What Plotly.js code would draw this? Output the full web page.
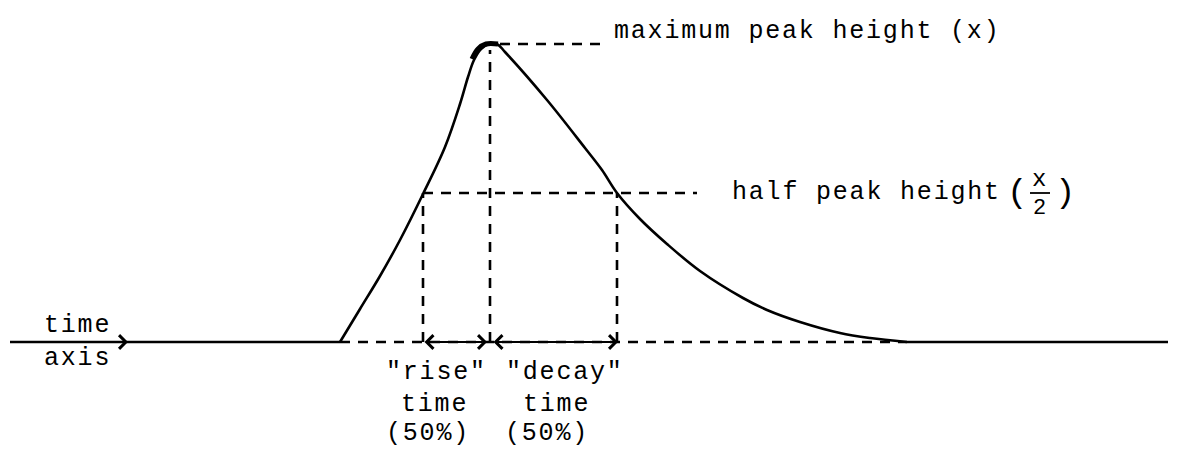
<!DOCTYPE html>
<html>
<head>
<meta charset="utf-8">
<script src="https://cdn.plot.ly/plotly-3.0.1.min.js"></script>
<style>
  html, body { margin: 0; padding: 0; background: #fff; }
  #chart { width: 1177px; height: 451px; }
  .annotation-text { letter-spacing: 1.8px; }
</style>
</head>
<body>
<div id="chart"></div>
<script>
// ---- data (time, signal height) ----
const peakTime = 490;
const peakHeight = 298;
const halfHeight = 149;
const riseHalfTime = 423;
const decayHalfTime = 617;
const startTime = 340;
const endTime = 907;
const axisStart = 10;
const axisEnd = 1168;

const riseT = [340, 360, 380, 400, 423, 445, 460, 468, 474, 481, 489, 497];
const riseH = [0, 33, 66, 102, 148, 195, 238, 265, 282, 293, 298, 298];
const decayT = [505, 547, 585, 602, 617, 640, 667, 700, 743, 767, 800, 840, 870, 907];
const decayH = [290, 242, 194, 172, 149, 123, 98, 71, 44, 32, 20, 9, 4, 0];
const peakCapT = [472, 478, 486, 498];
const peakCapH = [283, 293, 298, 298];

const labelMax = "maximum peak height (x)";
const labelHalf = "half peak height";
const labelRise = ['"rise"', 'time', '(50%)'];
const labelDecay = ['"decay"', 'time', '(50%)'];
const labelAxis = ['time', 'axis'];

const solid = {color: '#000', width: 2.6};
const dashed = {color: '#000', width: 2.6, dash: '10px,8px'};
const FONT = 'Liberation Mono, DejaVu Sans Mono, monospace';

const traces = [
  // time axis solid parts
  {x: [axisStart, startTime], y: [0, 0], mode: 'lines', line: solid},
  {x: [endTime, axisEnd], y: [0, 0], mode: 'lines', line: solid},
  // dashed baseline under the peak
  {x: [startTime, endTime], y: [0, 0], mode: 'lines', line: dashed},
  // curve
  {x: riseT.concat(decayT), y: riseH.concat(decayH), mode: 'lines',
   line: {color: '#000', width: 2.6, shape: 'spline', smoothing: 1}},
  {x: peakCapT, y: peakCapH, mode: 'lines', line: {color: '#000', width: 5, shape: 'spline'}},
  // dashed guides
  {x: [peakTime + 10, 605], y: [peakHeight, peakHeight], mode: 'lines', line: dashed},
  {x: [peakTime, peakTime], y: [0, peakHeight - 6], mode: 'lines', line: dashed},
  {x: [riseHalfTime, 697], y: [halfHeight, halfHeight], mode: 'lines', line: dashed},
  {x: [riseHalfTime, riseHalfTime], y: [0, halfHeight], mode: 'lines', line: dashed},
  {x: [decayHalfTime, decayHalfTime], y: [0, halfHeight], mode: 'lines', line: dashed},
  // fraction bar for x/2
  {x: [1030, 1050], y: [halfHeight, halfHeight], mode: 'lines', line: {color: '#000', width: 1.8}}
];

function txt(x, y, text, size, anchor) {
  return {x: x, y: y, xref: 'x', yref: 'y', text: text, showarrow: false,
    xanchor: anchor || 'center', yanchor: 'middle',
    font: {family: FONT, size: size || 25, color: '#000'}};
}
function arrow(x, y, ax, ay, both) {
  return {x: x, y: y, ax: ax, ay: ay, xref: 'x', yref: 'y', axref: 'x', ayref: 'y',
    text: '', showarrow: true, arrowhead: 4, startarrowhead: 4,
    arrowside: both ? 'end+start' : 'end', arrowwidth: 2.2, arrowsize: 1.2,
    arrowcolor: '#000', standoff: 0, startstandoff: 0};
}

const annotations = [
  txt(612, 311, labelMax, 25, 'left'),
  txt(730, 150, labelHalf, 25, 'left'),
  txt(1018, 149, '(', 34),
  txt(1040, 163, 'x', 24),
  txt(1040, 134, '2', 22),
  txt(1066, 149, ')', 34),
  txt(436, -30, labelRise[0]), txt(434, -62, labelRise[1]), txt(428, -91, labelRise[2]),
  txt(565, -30, labelDecay[0]), txt(556, -62, labelDecay[1]), txt(547, -91, labelDecay[2]),
  txt(42, 17, labelAxis[0], 25, 'left'), txt(42, -16, labelAxis[1], 25, 'left'),
  arrow(128, 0, 100, 0, false),
  arrow(487, 0, riseHalfTime, 0, true),
  arrow(decayHalfTime + 1, 0, 492, 0, true)
];

const layout = {
  width: 1177, height: 451,
  margin: {l: 0, r: 0, t: 0, b: 0},
  paper_bgcolor: '#fff', plot_bgcolor: '#fff',
  showlegend: false,
  xaxis: {range: [0, 1177], visible: false, fixedrange: true},
  yaxis: {range: [-109, 342], visible: false, fixedrange: true},
  annotations: annotations
};

Plotly.newPlot('chart', traces, layout, {displayModeBar: false, staticPlot: true});
</script>
</body>
</html>
